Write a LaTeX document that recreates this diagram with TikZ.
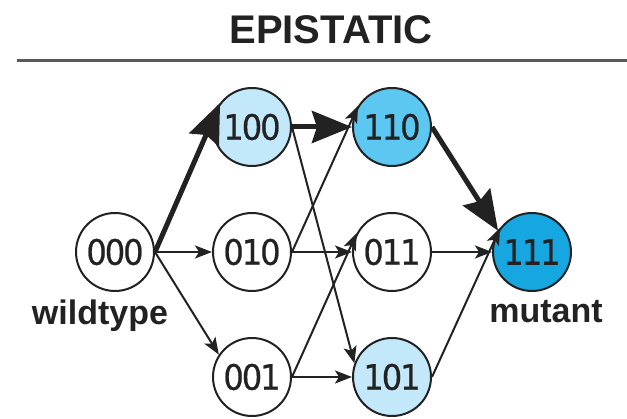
\documentclass[tikz,border=0pt]{standalone}
\usepackage{fontspec}
\usetikzlibrary{arrows.meta}
\newfontfamily\headfont{Liberation Sans}
\newfontfamily\numfont{DejaVu Sans}[FakeStretch=0.92,LetterSpace=-6,FakeBold=0.6]
\definecolor{lightblue}{HTML}{C2E8F9}
\definecolor{midblue}{HTML}{5CC7F0}
\definecolor{deepblue}{HTML}{16A6E0}
\definecolor{inkc}{HTML}{222222}
\tikzset{
  geno/.style={circle, draw=inkc, line width=2pt, minimum size=78pt, inner sep=0pt,
    font=\numfont\fontsize{35}{35}\selectfont, text=inkc},
  thin/.style={draw=inkc, line width=2pt, -{Stealth[length=17pt,width=13pt,inset=4pt]}},
  heavy/.style={draw=inkc, line width=5pt, -{Stealth[length=40pt,width=32pt,inset=5pt]}},
  lbl/.style={font=\headfont\bfseries\fontsize{34}{34}\selectfont, text=inkc, anchor=base, inner sep=0pt}
}
\begin{document}
\begin{tikzpicture}[x=1pt,y=1pt]
\useasboundingbox (0,0) rectangle (627,-419);
\node[lbl, font=\headfont\bfseries\fontsize{40}{40}\selectfont] (title) at (331,-44) {EPISTATIC};
\coordinate (ruleL) at (17,-61);
\coordinate (ruleR) at (627,-61);
\draw[line width=3pt, draw=black!65] (ruleL) -- (ruleR);

\node[geno] (n000) at (115,-252) {000};
\node[geno, fill=lightblue] (n100) at (252,-127) {100};
\node[geno] (n010) at (252,-252) {010};
\node[geno] (n001) at (252,-377) {001};
\node[geno, fill=midblue] (n110) at (392,-127) {110};
\node[geno] (n011) at (392,-252) {011};
\node[geno, fill=lightblue] (n101) at (392,-377) {101};
\node[geno, fill=deepblue] (n111) at (532,-252) {111};

\node[lbl] (wt) at (100,-325) {wildtype};
\node[lbl] (mt) at (546,-323) {mutant};

\draw[heavy] (n000.east) -- (n100.143);
\draw[thin] (n000.east) -- (n010.west);
\draw[thin] (n000.east) -- (n001.146);
\draw[thin] (n010.east) -- (n110.148);
\draw[thin] (n010.east) -- (n011.west);
\draw[thin] (n100.east) -- (n101.160);
\draw[heavy] (n100.east) -- (n110.west);
\draw[thin] (n001.east) -- (n011.152);
\draw[thin] (n001.east) -- (n101.west);
\draw[thin] (n011.east) -- (n111.west);
\draw[thin] (n101.east) -- (n111.143);
\draw[heavy] (n110.east) -- (n111.148);
\end{tikzpicture}
\end{document}
